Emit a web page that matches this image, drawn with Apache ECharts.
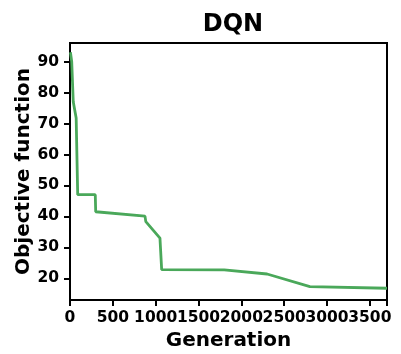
<!DOCTYPE html>
<html>
<head>
<meta charset="utf-8">
<script src="https://cdn.jsdelivr.net/npm/echarts@6/dist/echarts.min.js"></script>
<style>
  html, body { margin: 0; padding: 0; background: #fff; }
  #chart { width: 401px; height: 354px; }
</style>
</head>
<body>
<div id="chart"></div>
<script>
// Best objective value found so far, by generation
const generations = [5, 20, 38, 62, 72, 90, 295, 300, 875, 885, 1050, 1070, 1800, 2300, 2800, 3700];
const objective   = [93, 90, 77, 73.3, 71.8, 47, 47, 41.5, 40.1, 38.3, 33, 22.8, 22.7, 21.4, 17.3, 16.8];

const xTicks = [0, 500, 1000, 1500, 2000, 2500, 3000, 3500];
const yTicks = [20, 30, 40, 50, 60, 70, 80, 90];

const FONT = 'DejaVu Sans';
const chart = echarts.init(document.getElementById('chart'), null, { renderer: 'canvas' });

const tickStyle = { show: true, length: 6, inside: false, lineStyle: { color: '#000', width: 2 } };
const labelStyle = { fontFamily: FONT, fontWeight: 'bold', fontSize: 15.5, color: '#000' };
const nameStyle = { fontFamily: FONT, fontWeight: 'bold', fontSize: 20, color: '#000' };

chart.setOption({
  animation: false,
  backgroundColor: '#fff',
  title: {
    text: 'DQN',
    left: 228, top: 8, textAlign: 'center',
    textStyle: { fontFamily: FONT, fontWeight: 'bold', fontSize: 24, color: '#000' }
  },
  grid: {
    left: 70, top: 43, right: 14, bottom: 54,
    outerBoundsMode: 'none', containLabel: false,
    show: true, borderColor: '#000', borderWidth: 2, backgroundColor: 'transparent'
  },
  xAxis: {
    type: 'value', min: 0, max: 3700, interval: 500,
    name: 'Generation', nameLocation: 'middle', nameGap: 31, nameTextStyle: nameStyle,
    axisLine: { show: true, lineStyle: { color: '#000', width: 2 } },
    axisTick: tickStyle,
    splitLine: { show: false },
    axisLabel: Object.assign({
      margin: 10, hideOverlap: false, showMinLabel: true, showMaxLabel: true,
      formatter: v => (xTicks.indexOf(v) >= 0 ? String(v) : '')
    }, labelStyle)
  },
  yAxis: {
    type: 'value', min: 13, max: 96,
    name: 'Objective function', nameLocation: 'middle', nameGap: 36, nameRotate: 90,
    nameMoveOverlap: false, nameTextStyle: nameStyle,
    axisLine: { show: true, lineStyle: { color: '#000', width: 2 } },
    axisTick: Object.assign({}, tickStyle, { customValues: yTicks }),
    splitLine: { show: false },
    axisLabel: Object.assign({ customValues: yTicks, margin: 11, formatter: v => String(v) }, labelStyle)
  },
  series: [{
    type: 'line',
    data: generations.map((g, i) => [g, objective[i]]),
    showSymbol: false,
    lineStyle: { color: '#4aa85a', width: 2.8 },
    itemStyle: { color: '#4aa85a' }
  }]
});
</script>
</body>
</html>
